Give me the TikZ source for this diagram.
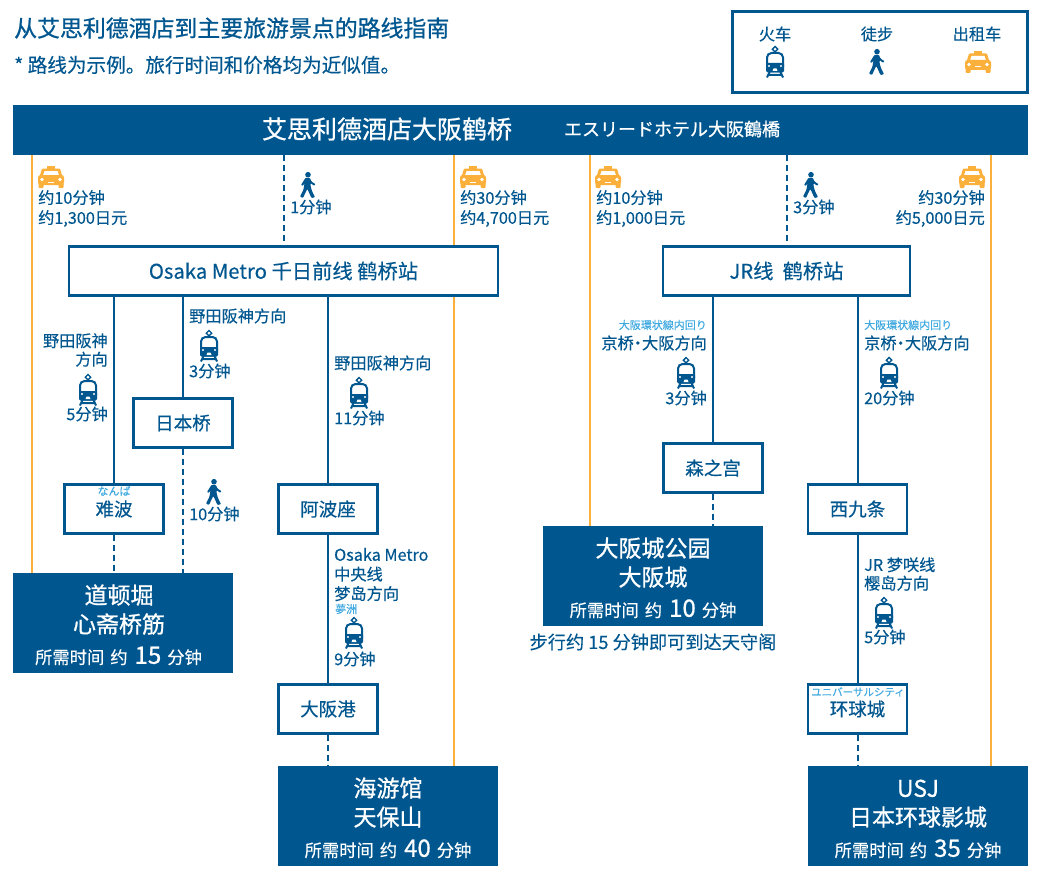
\documentclass[tikz,border=0pt]{standalone}
\usepackage{fontspec}
\usepackage{xcolor}
\setmainfont[FakeBold=0.3]{Noto Sans CJK SC}
\newfontfamily\jpfont[FakeBold=0.2]{Noto Sans CJK JP}
\newfontfamily\jpmedfont[FakeBold=0.8]{Noto Sans CJK JP}
\newfontfamily\medfont[FakeBold=0.8]{Noto Sans CJK SC}
\definecolor{routeblue}{HTML}{00568F}
\definecolor{taxiorange}{HTML}{FBB03B}
\definecolor{kanablue}{HTML}{3FA9E0}
\newcommand{\durtext}[1]{{\normalfont\fontsize{17.3}{21}\selectfont 所需时间\hspace{6pt}约\hspace{7pt}{\medfont\fontsize{24}{21}\selectfont #1}\hspace{6pt}分钟}}
\newcommand{\midot}{\hspace{-4pt}·\hspace{-4pt}}
\newcommand{\desthead}[1]{\rule{0pt}{19pt}\raisebox{-4pt}{#1}}

\begin{document}
\begin{tikzpicture}[x=1pt,y=-1pt,
    lbl/.style={font=\fontsize{16.2}{20}\selectfont, text=routeblue, inner sep=0pt, align=left},
    lblright/.style={lbl, align=right, anchor=east},
    kana/.style={font=\jpfont\fontsize{11}{13}\selectfont, text=kanablue, inner sep=0pt},
    station/.style={draw=routeblue, line width=2.2pt, fill=white, minimum width=99pt, minimum height=49pt, inner sep=0pt, text=routeblue, font=\fontsize{18.5}{22}\selectfont},
    dest/.style={fill=routeblue, minimum width=220pt, minimum height=100pt, inner sep=0pt, text=white, align=center, font=\medfont\fontsize{23}{29}\selectfont},
    railline/.style={routeblue, line width=2pt},
    walkline/.style={routeblue, line width=2pt, dash pattern=on 6pt off 4pt},
    taxiline/.style={taxiorange, line width=2pt},
    trainicon/.pic={
        \draw[routeblue, line width=1.4pt, fill=white] (0,-15.5) -- (2.7,-12.8) -- (0,-10) -- (-2.7,-12.8) -- cycle;
        \draw[routeblue, line width=2pt, rounded corners=4.5pt, fill=white] (-8,9.5) -- (-8,-9) -- (8,-9) -- (8,9.5) -- cycle;
        \fill[routeblue, rounded corners=1.5pt] (-9,1) rectangle (9,10.5);
        \fill[white] (-6,4) circle (1.2) (6,4) circle (1.2);
        \fill[white] (-2.5,9) -- (2.5,9) -- (1.5,6.5) -- (-1.5,6.5) -- cycle;
        \draw[routeblue, line width=2pt] (-5,9) -- (-8,15.5) (5,9) -- (8,15.5) (-6.5,13) -- (6.5,13);
    },
    walkicon/.pic={
        \fill[routeblue] (0,-10.3) circle (2.8);
        \fill[routeblue, rounded corners=0.8pt] (-2.5,-7.2) -- (1.8,-7.2) -- (3.5,-3.5) -- (7.5,-0.8) -- (6.5,0.8) -- (2.4,-1.8) -- (2.8,2) -- (4,6) -- (7,12.2) -- (3.5,13) -- (0.5,6.5) -- (-0.6,4) -- (-2.5,7.5) -- (-5,13) -- (-8,11.6) -- (-4.5,4.5) -- (-3.5,-2) -- (-5.2,1) -- (-7,0) -- cycle;
    },
    taxiicon/.pic={
        \fill[taxiorange] (-4,-11) rectangle (4,-8);
        \fill[taxiorange, rounded corners=1pt] (-9,-8.5) -- (9,-8.5) -- (11.5,0) -- (-11.5,0) -- cycle;
        \fill[white] (-6.5,-6) -- (6.5,-6) -- (8,-1.5) -- (-8,-1.5) -- cycle;
        \fill[taxiorange, rounded corners=2.5pt] (-13,-2) rectangle (13,8);
        \fill[taxiorange, rounded corners=1pt] (-12.5,6) rectangle (-7.5,11) (7.5,6) rectangle (12.5,11);
        \fill[white] (-9,2.5) circle (1.8) (9,2.5) circle (1.8);
        \fill[white] (-3,4.5) rectangle (3,5.5);
    },
]
\useasboundingbox (0,0) rectangle (1040,880);

% heading
\node [lbl, anchor=west, font=\medfont\fontsize{22.9}{26}\selectfont] (title) at (14,28) {从艾思利德酒店到主要旅游景点的路线指南};
\node [lbl, anchor=west, font=\fontsize{19.6}{22}\selectfont] (note) at (14,65) {* 路线为示例。旅行时间和价格均为近似值。};

% legend
\node [draw=routeblue, line width=2.2pt, minimum width=295pt, minimum height=81pt, inner sep=0pt] (legend) at (880,52) {};
\node [lbl] (legtrain) at (775,34) {火车};
\node [lbl] (legwalk) at (877,34) {徒步};
\node [lbl] (legtaxi) at (977,34) {出租车};
\pic at (775,62) {trainicon};
\pic at (877,62) {walkicon};
\pic at (978,62) {taxiicon};

% hotel
\node [fill=routeblue, minimum width=1015pt, minimum height=50pt, inner sep=0pt] (hotel) at (520.5,130) {};
\node [lbl, text=white, font=\medfont\fontsize{25}{30}\selectfont] (hotelzh) at (387,129) {艾思利德酒店大阪鹤桥};
\node [lbl, text=white, font=\jpmedfont\fontsize{18}{22}\selectfont] (hoteljp) at (672,129) {エスリードホテル大阪鶴橋};

% stations
\node [station, minimum width=429pt, font=\fontsize{20.3}{24}\selectfont] (metro) at (283.5,271) {Osaka Metro 千日前线 鹤桥站};
\node [station, minimum width=247.5pt, font=\fontsize{20.3}{24}\selectfont] (jr) at (786.5,271) {JR线\ \ 鹤桥站};
\node [station] (nihonbashi) at (183,423) {日本桥};
\node [station] (namba) at (114,509) {\raisebox{-4pt}{难波}};
\node [station] (awaza) at (328,509) {阿波座};
\node [station] (osakako) at (328,709) {大阪港};
\node [station] (morinomiya) at (713,468) {森之宫};
\node [station] (nishikujo) at (857.5,509) {西九条};
\node [station] (univ) at (857.5,709) {\raisebox{-1pt}{环球城}};
\node [kana] (nambakana) at (114,491) {なんば};
\node [kana, font=\jpfont\fontsize{10.5}{13}\selectfont] (univkana) at (858,692) {ユニバーサルシティ};

% destinations
\node [dest] (dotonbori) at (123,623) {\desthead{\hspace*{-8pt}道顿堀}\\\raisebox{-4pt}{\hspace*{-8pt}心斋桥筋}\\[6pt]\hspace*{-9pt}\durtext{15}};
\node [dest] (kaiyukan) at (388,816) {\desthead{海游馆}\\\raisebox{-4pt}{天保山}\\[6pt]\durtext{40}};
\node [dest] (castle) at (653,576) {\desthead{大阪城公园}\\\raisebox{-4pt}{大阪城}\\[6pt]\durtext{10}};
\node [dest] (usj) at (918,816) {\desthead{USJ}\\\raisebox{-4pt}{日本环球影城}\\[6pt]\durtext{35}};
\node [lbl, font=\fontsize{18.2}{22}\selectfont] (castlenote) at (653,642) {步行约 15 分钟即可到达天守阁};

% taxi lines
\coordinate (taxiA) at (32,155);
\coordinate (taxiB) at (454,155);
\coordinate (taxiC) at (590,155);
\coordinate (taxiD) at (991,155);
\draw[taxiline] (taxiA) -- (taxiA |- dotonbori.north);
\draw[taxiline] (taxiB) -- (taxiB |- metro.north);
\draw[taxiline] (taxiB |- metro.south) -- (taxiB |- kaiyukan.north);
\draw[taxiline] (taxiC) -- (taxiC |- castle.north);
\draw[taxiline] (taxiD) -- (taxiD |- usj.north);

% walking and rail
\draw[walkline] (hotel.south -| metro.north) -- (metro.north);
\draw[walkline] (hotel.south -| jr.north) -- (jr.north);
\draw[railline] (metro.south -| namba.north) -- (namba.north);
\draw[railline] (metro.south -| nihonbashi.north) -- (nihonbashi.north);
\draw[railline] (metro.south -| awaza.north) -- (awaza.north);
\draw[railline] (awaza.south) -- (osakako.north);
\draw[railline] (jr.south -| morinomiya.north) -- (morinomiya.north);
\draw[railline] (jr.south -| nishikujo.north) -- (nishikujo.north);
\draw[railline] (nishikujo.south) -- (univ.north);
\draw[walkline] (namba.south) -- (namba.south |- dotonbori.north);
\draw[walkline] (nihonbashi.south) -- (nihonbashi.south |- dotonbori.north);
\draw[walkline] (osakako.south) -- (osakako.south |- kaiyukan.north);
\draw[walkline] (morinomiya.south) -- (morinomiya.south |- castle.north);
\draw[walkline] (univ.south) -- (univ.south |- usj.north);

% hotel to stations
\pic at (51,177) {taxiicon};
\node [lbl, anchor=west] (taxiAtext) at (38,208.5) {约10分钟\\约1,300日元};
\pic at (308,185) {walkicon};
\node [lbl, anchor=west] (walkmetro) at (290,207) {1分钟};
\pic at (473,177) {taxiicon};
\node [lbl, anchor=west] (taxiBtext) at (460,208.5) {约30分钟\\约4,700日元};
\pic at (608,177) {taxiicon};
\node [lbl, anchor=west] (taxiCtext) at (596,208.5) {约10分钟\\约1,000日元};
\pic at (811,185) {walkicon};
\node [lbl, anchor=west] (walkjr) at (793,207) {3分钟};
\pic at (972,177) {taxiicon};
\node [lblright] (taxiDtext) at (985,208.5) {约30分钟\\约5,000日元};

% metro branches
\node [lblright, font=\fontsize{16.2}{18.5}\selectfont] (nambadir) at (108,350) {野田阪神\\方向};
\pic at (88,390) {trainicon};
\node [lblright] (nambatime) at (108,414) {5分钟};
\node [lbl, anchor=west] (nihondir) at (189,316) {野田阪神方向};
\pic at (209,346) {trainicon};
\node [lbl, anchor=west] (nihontime) at (189,371) {3分钟};
\node [lbl, anchor=west] (awazadir) at (334,363) {野田阪神方向};
\pic at (359,393) {trainicon};
\node [lbl, anchor=west] (awazatime) at (334,418) {11分钟};
\pic at (214,492) {walkicon};
\node [lbl, anchor=west] (nihonwalk) at (189,514) {10分钟};
\node [lbl, anchor=west, font=\fontsize{16.2}{19.5}\selectfont] (chuodir) at (334,574.5) {Osaka Metro\\中央线\\梦岛方向};
\node [kana, anchor=west] (chuokana) at (335,609) {夢洲};
\pic at (354,633) {trainicon};
\node [lbl, anchor=west] (chuotime) at (334,659) {9分钟};

% jr branches
\node [kana, anchor=east] (loopkanaA) at (707,325) {大阪環状線内回り};
\node [lblright] (loopdirA) at (707,343) {京桥\midot 大阪方向};
\pic at (686,373) {trainicon};
\node [lblright] (looptimeA) at (707,398) {3分钟};
\node [kana, anchor=west] (loopkanaB) at (864,325) {大阪環状線内回り};
\node [lbl, anchor=west] (loopdirB) at (864,343) {京桥\midot 大阪方向};
\pic at (889,373) {trainicon};
\node [lbl, anchor=west] (looptimeB) at (864,398) {20分钟};
\node [lbl, anchor=west, font=\fontsize{16.2}{18.5}\selectfont] (yumedir) at (864,574) {JR 梦咲线\\樱岛方向};
\pic at (884,613) {trainicon};
\node [lbl, anchor=west] (yumetime) at (864,637) {5分钟};

\end{tikzpicture}
\end{document}
